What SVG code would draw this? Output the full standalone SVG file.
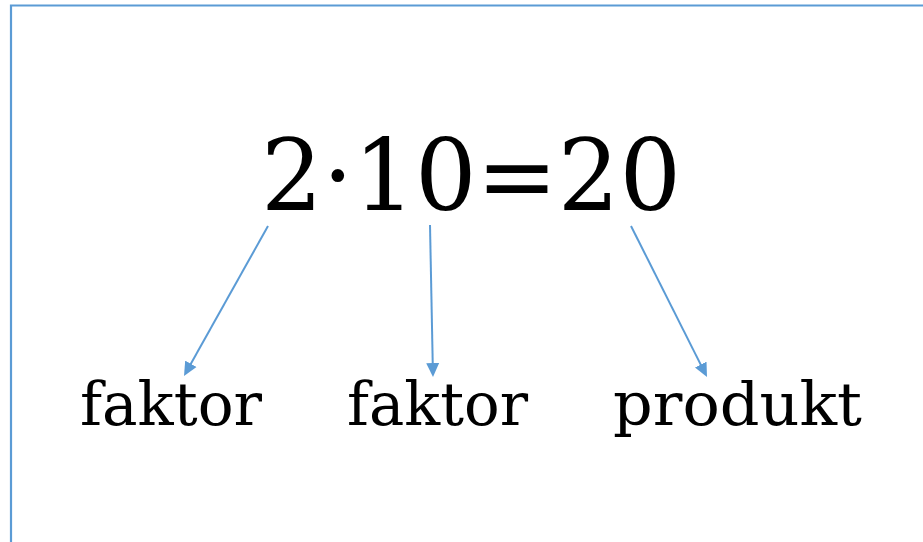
<svg xmlns="http://www.w3.org/2000/svg" width="923" height="542" viewBox="0 0 923 542">
<style>
.t{font-family:"DejaVu Serif","Liberation Serif",serif;fill:#000}
.c{stroke:#5B9BD5;stroke-width:2;fill:none}
</style>
<defs>
<marker id="ah" markerUnits="userSpaceOnUse" markerWidth="16" markerHeight="14" refX="4" refY="6.5" orient="auto" viewBox="0 0 16 13">
<path d="M0,0 L14,6.5 L0,13 Z" fill="#5B9BD5"/>
</marker>
</defs>
<rect x="0" y="0" width="923" height="542" fill="#fff"/>
<path d="M11,542 L11,5.5 L923,5.5" stroke="#5B9BD5" stroke-width="2.2" fill="none"/>
<g id="equation"><text class="t" x="261" y="210" font-size="100" textLength="420" lengthAdjust="spacingAndGlyphs">2·10=20</text></g>
<g id="faktor1"><text class="t" x="80" y="425" font-size="60" textLength="182" lengthAdjust="spacingAndGlyphs">faktor</text></g>
<g id="faktor2"><text class="t" x="347" y="425" font-size="60" textLength="181" lengthAdjust="spacingAndGlyphs">faktor</text></g>
<g id="produkt"><text class="t" x="613" y="425" font-size="60" textLength="249" lengthAdjust="spacingAndGlyphs">produkt</text></g>
<g id="connectors">
<line class="c" x1="268" y1="226" x2="188.9" y2="367.3" marker-end="url(#ah)"/>
<line class="c" x1="430" y1="225" x2="432.8" y2="367" marker-end="url(#ah)"/>
<line class="c" x1="631" y1="226" x2="702.5" y2="368.1" marker-end="url(#ah)"/>
</g>
</svg>
